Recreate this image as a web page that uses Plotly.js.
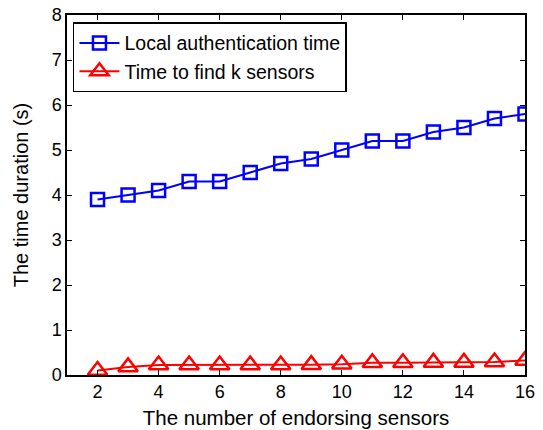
<!DOCTYPE html>
<html><head><meta charset="utf-8">
<script src="https://cdn.plot.ly/plotly-3.0.1.min.js"></script>
<style>body{margin:0;background:#fff}#c{width:543px;height:430px}</style>
</head><body><div id="c"></div>
<script>
const sensors = [2,3,4,5,6,7,8,9,10,11,12,13,14,15,16];
const localAuth = [3.9,4.0,4.1,4.3,4.3,4.5,4.7,4.8,5.0,5.2,5.2,5.4,5.5,5.7,5.8];
const findK = [0.1,0.18,0.22,0.22,0.22,0.22,0.22,0.23,0.24,0.27,0.27,0.28,0.28,0.29,0.32];
const xTicks = [2,4,6,8,10,12,14,16];
const yTicks = [0,1,2,3,4,5,6,7,8];

const traces = [
 {x:sensors,y:localAuth,name:'Local authentication time',mode:'lines+markers',
  line:{color:'#0000ff',width:2},marker:{symbol:'square-open',size:13,color:'#0000ff',line:{width:2.5,color:'#0000ff'}}},
 {x:sensors,y:findK,name:'Time to find k sensors',mode:'lines+markers',
  line:{color:'#ff0000',width:2},marker:{symbol:'triangle-up-open',size:17,color:'#ff0000',line:{width:2.5,color:'#ff0000'}}}
];
const ax = {showgrid:false,zeroline:false,showline:true,mirror:'ticks',linecolor:'#000',linewidth:1.5,
  ticks:'inside',ticklen:5,tickcolor:'#000',tickfont:{family:'Liberation Sans, Arial',size:18,color:'#000'}};
const layout = {
 width:543,height:430,margin:{l:67,r:18,t:15,b:55},paper_bgcolor:'#fff',plot_bgcolor:'#fff',
 font:{family:'Liberation Sans, Arial',color:'#000'},
 xaxis:Object.assign({},ax,{range:[1,16],tickvals:xTicks,ticktext:xTicks.map(String),
   title:{text:'The number of endorsing sensors',font:{size:20.5},standoff:9}}),
 yaxis:Object.assign({},ax,{range:[0,8],tickvals:yTicks,ticktext:yTicks.map(String),
   title:{text:'The time duration (s)',font:{size:20},standoff:18}}),
 legend:{x:0.013,y:0.98,xanchor:'left',yanchor:'top',bgcolor:'#fff',bordercolor:'#000',borderwidth:1.5,
   font:{size:19.5,family:'Liberation Sans, Arial'},tracegroupgap:0,itemwidth:40},
 showlegend:true
};
Plotly.newPlot('c',traces,layout,{displayModeBar:false});
</script></body></html>
